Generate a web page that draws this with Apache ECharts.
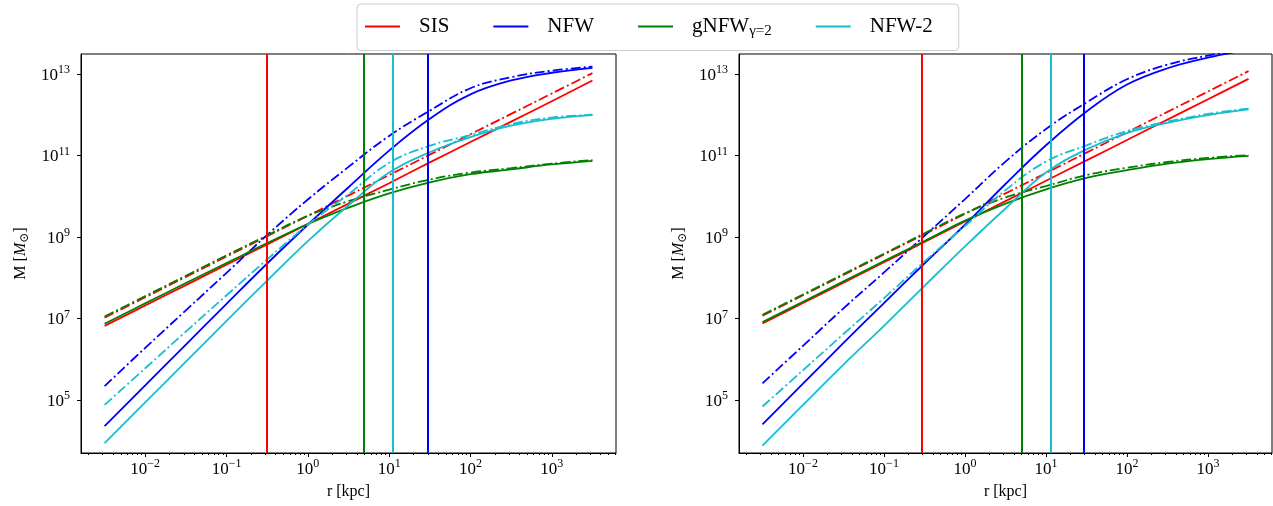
<!DOCTYPE html>
<html>
<head>
<meta charset="utf-8">
<script src="https://cdn.jsdelivr.net/npm/echarts@6/dist/echarts.min.js"></script>
<style>
html, body { margin: 0; padding: 0; background: #fff; }
#container { width: 1273px; height: 506px; }
</style>
</head>
<body>
<div id="container"></div>
<script>
// everything is stored as log10: r in kpc, M in solar masses
var logR = [-2.5, -2, -1.5, -1, -0.5, 0, 0.5, 1, 1.5, 2, 2.5, 3, 3.5];

// left panel
var leftSisSolid   = [6.82, 7.32, 7.82, 8.32, 8.82, 9.32, 9.82, 10.32, 10.83, 11.33, 11.83, 12.33, 12.84];
var leftSisDash    = [7.02, 7.52, 8.02, 8.52, 9.02, 9.52, 10.02, 10.52, 11.02, 11.52, 12.02, 12.52, 13.02];
var leftNfwSolid   = [4.36, 5.36, 6.36, 7.36, 8.35, 9.30, 10.22, 11.12, 11.90, 12.50, 12.84, 13.03, 13.15];
var leftNfwDash    = [5.34, 6.28, 7.20, 8.12, 9.05, 9.92, 10.72, 11.48, 12.10, 12.65, 12.92, 13.08, 13.18];
var leftGnfwSolid  = [6.87, 7.37, 7.87, 8.36, 8.85, 9.32, 9.72, 10.07, 10.34, 10.54, 10.66, 10.78, 10.87];
var leftGnfwDash   = [7.05, 7.55, 8.05, 8.55, 9.04, 9.52, 9.88, 10.16, 10.41, 10.58, 10.69, 10.80, 10.89];
var leftNfw2Solid  = [3.94, 4.94, 5.94, 6.94, 7.93, 8.90, 9.78, 10.58, 11.08, 11.45, 11.73, 11.90, 11.99];
var leftNfw2Dash   = [4.88, 5.78, 6.68, 7.57, 8.45, 9.30, 10.05, 10.82, 11.24, 11.50, 11.77, 11.93, 12.00];
var leftRadii      = [-0.51, 1.47, 0.69, 1.05];   // SIS, NFW, gNFW, NFW-2

// right panel
var rightSisSolid  = [6.88, 7.38, 7.88, 8.38, 8.88, 9.38, 9.88, 10.38, 10.88, 11.38, 11.88, 12.38, 12.88];
var rightSisDash   = [7.07, 7.57, 8.07, 8.57, 9.07, 9.57, 10.07, 10.57, 11.07, 11.57, 12.07, 12.57, 13.07];
var rightNfwSolid  = [4.40, 5.40, 6.40, 7.38, 8.35, 9.30, 10.30, 11.25, 12.08, 12.74, 13.14, 13.40, 13.60];
var rightNfwDash   = [5.41, 6.33, 7.25, 8.13, 9.03, 9.93, 10.85, 11.65, 12.30, 12.87, 13.23, 13.45, 13.60];
var rightGnfwSolid = [6.91, 7.41, 7.91, 8.41, 8.90, 9.40, 9.82, 10.17, 10.45, 10.64, 10.80, 10.91, 10.99];
var rightGnfwDash  = [7.09, 7.59, 8.09, 8.59, 9.09, 9.58, 9.97, 10.25, 10.52, 10.70, 10.84, 10.94, 11.01];
var rightNfw2Solid = [3.88, 4.88, 5.87, 6.82, 7.80, 8.77, 9.70, 10.58, 11.15, 11.55, 11.80, 11.99, 12.13];
var rightNfw2Dash  = [4.84, 5.73, 6.62, 7.50, 8.40, 9.27, 10.15, 10.85, 11.25, 11.60, 11.83, 12.02, 12.15];
var rightRadii     = [-0.53, 1.47, 0.70, 1.06];

var names = ['SIS', 'NFW', 'gNFW', 'NFW-2'];
var colors = ['#ff0000', '#0000ff', '#008000', '#17becf'];
var xTicks = [-2, -1, 0, 1, 2, 3];
var yTicks = [5, 7, 9, 11, 13];
var xMin = -2.79, xMax = 3.79, yMin = 3.7, yMax = 13.49;

var FONT = '"Liberation Serif", "DejaVu Serif", serif';

var minorTicks = [];
for (var n = -3; n <= 3; n++) {
    for (var k = 2; k <= 9; k++) {
        var t = n + Math.log10(k);
        if (t > xMin && t < xMax) minorTicks.push(t);
    }
}

var powRich = {
    b: { fontSize: 17, fontFamily: FONT, color: '#000', verticalAlign: 'bottom' },
    sup: { fontSize: 12, fontFamily: FONT, color: '#000', verticalAlign: 'bottom', padding: [0, 0, 8, 0] }
};
function powLabel(v) {
    return '{b|10}{sup|' + String(v).replace('-', '\u2212') + '}';
}

function pairs(ys) {
    return logR.map(function (x, i) { return [x, ys[i]]; });
}

function xAxes(grid) {
    return [{
        type: 'value', gridIndex: grid, min: xMin, max: xMax, position: 'bottom',
        name: 'r [kpc]', nameLocation: 'middle', nameGap: 31,
        nameTextStyle: { fontFamily: FONT, fontSize: 16, color: '#000' },
        axisLine: { show: true, onZero: false, lineStyle: { color: '#000', width: 1 } },
        axisTick: { show: true, length: 4, customValues: xTicks, lineStyle: { color: '#000' } },
        axisLabel: { customValues: xTicks, formatter: powLabel, rich: powRich, margin: 5 },
        splitLine: { show: false }
    }, {
        type: 'value', gridIndex: grid, min: xMin, max: xMax, position: 'bottom',
        axisLine: { show: false, onZero: false },
        axisTick: { show: true, length: 2, customValues: minorTicks, lineStyle: { color: '#000' } },
        axisLabel: { show: false },
        splitLine: { show: false }
    }];
}

function yAxis(grid) {
    return {
        type: 'value', gridIndex: grid, min: yMin, max: yMax, position: 'left',
        name: '{n|M [}{it|M}{sub|\u2299}{n|]}', nameLocation: 'middle', nameGap: 50,
        nameTextStyle: {
            rich: {
                n: { fontFamily: FONT, fontSize: 16, color: '#000', lineHeight: 20 },
                it: { fontFamily: FONT, fontSize: 16, fontStyle: 'italic', color: '#000', lineHeight: 20 },
                sub: { fontFamily: FONT, fontSize: 12, color: '#000', verticalAlign: 'bottom', lineHeight: 20 }
            }
        },
        axisLine: { show: true, onZero: false, lineStyle: { color: '#000', width: 1 } },
        axisTick: { show: true, length: 4, customValues: yTicks, lineStyle: { color: '#000' } },
        axisLabel: { customValues: yTicks, formatter: powLabel, rich: powRich, margin: 11 },
        splitLine: { show: false }
    };
}

function curve(i, xi, yi, ys, dashed, radius) {
    var s = {
        name: names[i], type: 'line', xAxisIndex: xi, yAxisIndex: yi,
        data: pairs(ys), symbol: 'none', smooth: 0.4,
        clip: true,
        lineStyle: { color: colors[i], width: 1.8, type: dashed ? [10, 3, 2, 3] : 'solid' },
        itemStyle: { color: colors[i] }
    };
    if (radius !== undefined) {
        s.markLine = {
            silent: true, symbol: 'none', label: { show: false },
            lineStyle: { color: colors[i], width: 2, type: 'solid' },
            data: [{ xAxis: radius }]
        };
    }
    return s;
}

var panels = [
    [leftSisSolid, leftSisDash, leftNfwSolid, leftNfwDash, leftGnfwSolid, leftGnfwDash, leftNfw2Solid, leftNfw2Dash, leftRadii],
    [rightSisSolid, rightSisDash, rightNfwSolid, rightNfwDash, rightGnfwSolid, rightGnfwDash, rightNfw2Solid, rightNfw2Dash, rightRadii]
];

var series = [];
panels.forEach(function (p, g) {
    for (var i = 0; i < 4; i++) {
        series.push(curve(i, g * 2, g, p[i * 2], false, p[8][i]));
        series.push(curve(i, g * 2, g, p[i * 2 + 1], true));
    }
});

var dom = document.getElementById('container');
var myChart = echarts.init(dom);
var option = {
    animation: false,
    backgroundColor: '#fff',
    legend: {
        top: 4, left: 357,
        data: names,
        icon: 'rect',
        backgroundColor: '#fff', borderColor: '#cccccc', borderWidth: 1, borderRadius: 4,
        padding: [12, 26, 12, 8],
        itemWidth: 35, itemHeight: 2, itemGap: 44,
        formatter: function (name) {
            if (name === 'gNFW') return '{t|gNFW}{sub|\u03b3=2}';
            return '{t|' + name + '}';
        },
        textStyle: {
            rich: {
                t: { fontFamily: FONT, fontSize: 21, color: '#000', padding: [0, 0, 0, 14], lineHeight: 24 },
                sub: { fontFamily: FONT, fontSize: 15, color: '#000', verticalAlign: 'bottom', lineHeight: 24 }
            }
        }
    },
    grid: [
        { left: 81, top: 54, width: 535, height: 399, show: true, borderColor: '#000', borderWidth: 1 },
        { left: 739, top: 54, width: 533, height: 399, show: true, borderColor: '#000', borderWidth: 1 }
    ],
    xAxis: xAxes(0).concat(xAxes(1)),
    yAxis: [yAxis(0), yAxis(1)],
    series: series
};
myChart.setOption(option);
</script>
</body>
</html>
